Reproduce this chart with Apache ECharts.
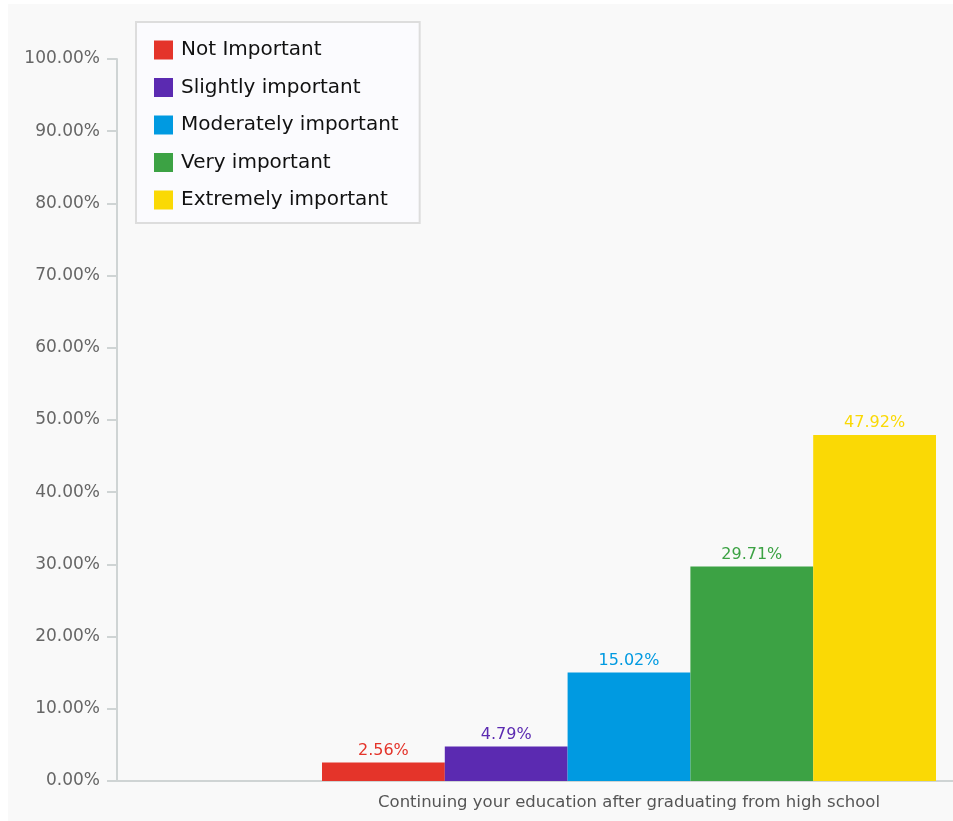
<!DOCTYPE html>
<html>
<head>
<meta charset="utf-8">
<script src="https://cdn.jsdelivr.net/npm/echarts@6/dist/echarts.min.js"></script>
<style>
  html, body { margin: 0; padding: 0; background: #ffffff; }
  #chart { position: absolute; left: 8px; top: 4px; width: 945px; height: 817px; }
</style>
</head>
<body>
<div id="chart"></div>
<script>
// Survey question shown on the category axis
const categories = ['Continuing your education after graduating from high school'];

// Response options and their shares (percent)
const seriesNames = ['Not Important', 'Slightly important', 'Moderately important', 'Very important', 'Extremely important'];
const seriesValues = [2.56, 4.79, 15.02, 29.71, 47.92];
const seriesColors = ['#e4342a', '#5b2ab1', '#009ae1', '#3ca244', '#fad905'];

// Y axis range and step (percent)
const yMin = 0;
const yMax = 100;
const yStep = 10;

const FONT = '"DejaVu Sans", sans-serif';
const AXIS_COLOR = '#cfd4d4';

const chart = echarts.init(document.getElementById('chart'));

const barSeries = seriesNames.map((name, i) => ({
  name: name,
  type: 'bar',
  xAxisIndex: 1,
  yAxisIndex: 1,
  data: [seriesValues[i]],
  barWidth: 122.8,
  barGap: '0%',
  itemStyle: { color: seriesColors[i] },
  label: {
    show: true,
    position: 'top',
    distance: 4,
    color: seriesColors[i],
    fontFamily: FONT,
    fontSize: 16,
    formatter: p => p.value.toFixed(2) + '%'
  }
}));

chart.setOption({
  backgroundColor: '#f9f9f9',
  animation: false,
  grid: [
    // frame with the percentage axis and the baseline
    { left: 109, right: 0, top: 55, bottom: 40 },
    // plotting band that holds the category's bars
    { left: 314, right: 17, top: 55, bottom: 40 }
  ],
  legend: {
    orient: 'vertical',
    left: 128,
    top: 18,
    padding: [18, 21, 13, 18],
    backgroundColor: '#fbfbfe',
    borderColor: '#dddddd',
    borderWidth: 2,
    itemWidth: 19,
    itemHeight: 19,
    itemGap: 17.5,
    icon: 'rect',
    textStyle: { fontFamily: FONT, fontSize: 20, color: '#111111', padding: [0, 0, 0, 3] },
    data: seriesNames
  },
  xAxis: [
    {
      gridIndex: 0,
      type: 'value',
      min: 0,
      max: 1,
      axisLine: { show: true, onZero: false, lineStyle: { color: AXIS_COLOR, width: 2 } },
      axisTick: { show: false },
      axisLabel: { show: false },
      splitLine: { show: false }
    },
    {
      gridIndex: 1,
      type: 'category',
      data: categories,
      axisLine: { show: false },
      axisTick: { show: false },
      axisLabel: { color: '#555555', fontFamily: FONT, fontSize: 16.5, margin: 13 }
    }
  ],
  yAxis: [
    {
      gridIndex: 0,
      type: 'value',
      min: yMin,
      max: yMax,
      interval: yStep,
      axisLine: { show: true, lineStyle: { color: AXIS_COLOR, width: 2 } },
      axisTick: { show: true, length: 10, lineStyle: { color: AXIS_COLOR, width: 2 } },
      splitLine: { show: false },
      axisLabel: {
        color: '#666666',
        fontFamily: FONT,
        fontSize: 17,
        margin: 17,
        formatter: v => v.toFixed(2) + '%'
      }
    },
    {
      gridIndex: 1,
      type: 'value',
      min: yMin,
      max: yMax,
      interval: yStep,
      show: false
    }
  ],
  series: barSeries
});
</script>
</body>
</html>
